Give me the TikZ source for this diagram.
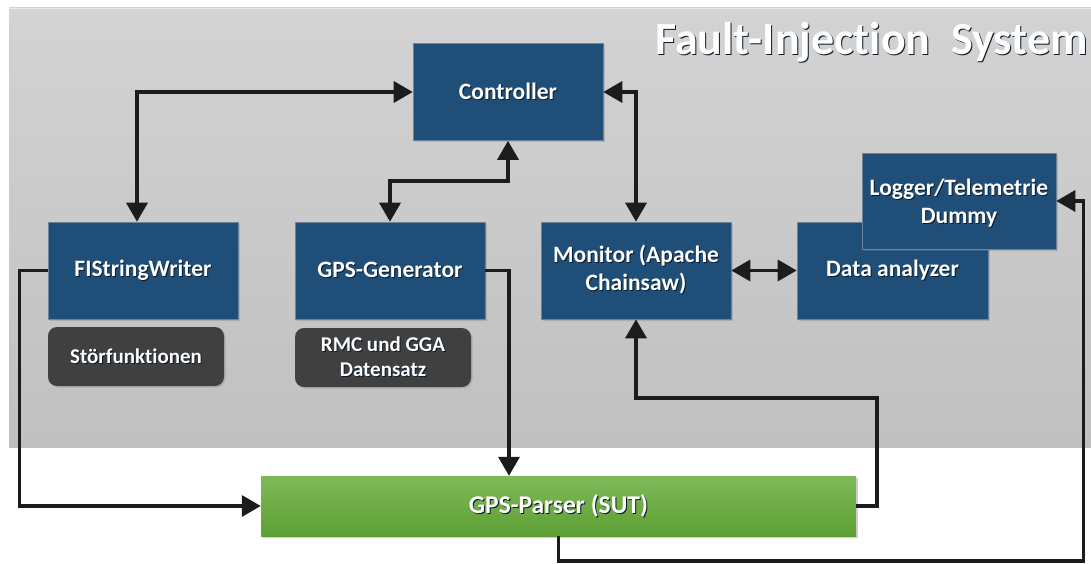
\documentclass[tikz,border=0pt]{standalone}
\usepackage{fontspec}
\setmainfont{Carlito}[Ligatures={NoCommon,NoContextual}]
\usetikzlibrary{arrows.meta,shadows}

\definecolor{bgtop}{HTML}{D3D3D3}
\definecolor{bgbot}{HTML}{C0C0C0}
\definecolor{boxblue}{HTML}{1F4E79}
\definecolor{boxline}{HTML}{6F849C}
\definecolor{darkbox}{HTML}{404040}
\definecolor{greentop}{HTML}{7FBA5A}
\definecolor{greenbot}{HTML}{5E9F34}
\definecolor{wire}{HTML}{1C1C1C}
\definecolor{txtshadow}{HTML}{0A1A2A}

% white label text with a small dark offset copy behind it
\newcommand\sht[1]{\leavevmode\rlap{\kern1pt\raisebox{-1pt}{\textcolor{txtshadow}{#1}}}#1}

\tikzset{
  blk/.style={draw=boxline, line width=0.6pt, fill=boxblue,
    minimum width=190pt, minimum height=97pt, inner sep=0pt,
    text=white, align=center,
    font=\bfseries\fontsize{23.5}{28}\selectfont,
    drop shadow={shadow xshift=2pt, shadow yshift=-2pt, opacity=0.35}},
  note/.style={fill=darkbox, rounded corners=9pt,
    minimum width=176pt, minimum height=59pt, inner sep=0pt,
    text=white, align=center,
    font=\bfseries\fontsize{21}{25}\selectfont,
    drop shadow={shadow xshift=1.5pt, shadow yshift=-1.5pt, opacity=0.3}},
  sut/.style={top color=greentop, bottom color=greenbot, draw=none,
    minimum width=595pt, minimum height=60pt, inner sep=0pt,
    text=white, font=\bfseries\fontsize{25.5}{30}\selectfont,
    drop shadow={shadow xshift=2pt, shadow yshift=-2pt, opacity=0.35}},
  conn/.style={draw=wire, line width=3.5pt,
    arrows={-Triangle[length=19pt,width=21pt]}},
  biconn/.style={draw=wire, line width=3.5pt,
    arrows={Triangle[length=19pt,width=21pt]-Triangle[length=19pt,width=21pt]}},
}

\begin{document}
\begin{tikzpicture}[x=1pt,y=-1pt]
\useasboundingbox (0,0) rectangle (1091,564);
\fill[white] (0,0) rectangle (1091,564);

% system frame
\shade[top color=bgtop, bottom color=bgbot] (9,8) rectangle (1091,447);
\draw[white!92!black, line width=0.8pt] (9,8) -- (1091,8);
\node[anchor=base west, inner sep=0pt, text=white,
      font=\bfseries\fontsize{46}{50}\selectfont] (title) at (655,55)
      {\sht{Fault-Injection\ \ System}};

% components
\node[blk] (ctrl) at (508,92) {\sht{Controller}};
\node[blk] (fisw) at (143,270.5) {\sht{FIStringWriter}};
\node[blk] (gen)  at (390,270.5) {\sht{GPS-Generator}};
\node[blk] (mon)  at (636,270.5) {\sht{Monitor (Apache}\\\sht{Chainsaw)}};
\node[blk, minimum width=191pt] (ana) at (892.5,270.5) {\sht{Data analyzer}};
\node[blk, minimum width=194pt, minimum height=96pt] (log) at (959,201) {};
\node[text=white, align=center, inner sep=0pt,
      font=\bfseries\fontsize{23.5}{28}\selectfont] (logtxt) at ([yshift=-3pt]log.center)
      {\sht{Logger/Telemetrie}\\\sht{Dummy}};

\node[note] (stoer) at (136,356.5) {\sht{Störfunktionen}};
\node[note] (rmc)   at (383,357.5) {\sht{RMC und GGA}\\\sht{Datensatz}};

\node[sut] (parser) at (558.5,506) {\sht{GPS-Parser (SUT)}};

% connections
\draw[biconn] (ctrl.west) -| ([xshift=-6pt]fisw.north);
\draw[biconn] (ctrl.south) -- ++(0,40) -| (gen.north);
\draw[biconn] (ctrl.east) -| (mon.north);
\draw[biconn] (mon.east) -- (ana.west);
\draw[conn] (fisw.west) -- ++(-28,0) |- (parser.west);
\draw[conn] (gen.east) -| ([xshift=-49.5pt]parser.north);
\draw[conn] (parser.east) -- ++(21,0) -- ++(0,-108) -| (mon.south);
\draw[conn] (parser.south) -- ++(0,25) -| ([xshift=27pt]log.east) -- (log.east);
\end{tikzpicture}
\end{document}
